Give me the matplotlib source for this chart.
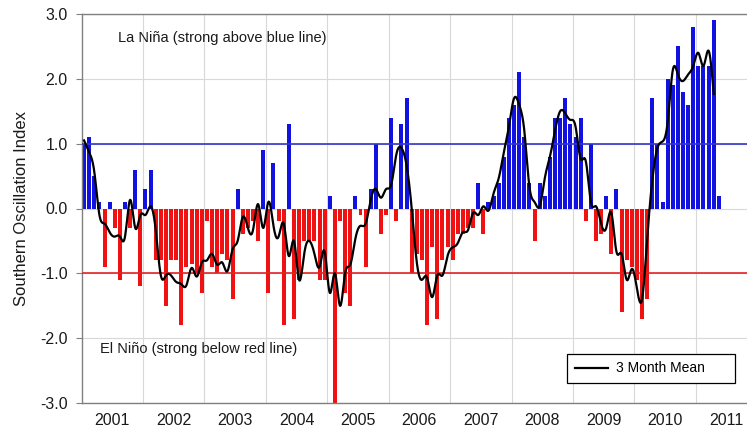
import numpy as np
import matplotlib
matplotlib.use("Agg")
import matplotlib.pyplot as plt
from matplotlib.ticker import FixedLocator, FuncFormatter, NullFormatter

plt.rcParams['font.family'] = ['Liberation Sans', 'DejaVu Sans']

# ---- data (monthly SOI, Jan 2001 .. May 2011) ----
years = ['2001', '2002', '2003', '2004', '2005', '2006',
         '2007', '2008', '2009', '2010', '2011']
soi_2001 = [1.0, 1.1, 0.5, 0.1, -0.9, 0.1, -0.3, -1.1, 0.1, -0.3, 0.6, -1.2]
soi_2002 = [0.3, 0.6, -0.8, -0.8, -1.5, -0.8, -0.8, -1.8, -0.9, -0.85, -1.0, -1.3]
soi_2003 = [-0.2, -0.9, -1.0, -0.7, -0.8, -1.4, 0.3, -0.4, -0.3, -0.2, -0.5, 0.9]
soi_2004 = [-1.3, 0.7, -0.2, -1.8, 1.3, -1.7, -1.1, -0.5, -0.5, -0.5, -1.1, -1.1]
soi_2005 = [0.2, -3.0, -0.2, -1.3, -1.5, 0.2, -0.1, -0.9, 0.3, 1.0, -0.4, -0.1]
soi_2006 = [1.4, -0.2, 1.3, 1.7, -1.0, -0.7, -0.8, -1.8, -0.6, -1.7, -0.8, -0.6]
soi_2007 = [-0.8, -0.4, -0.4, -0.3, -0.3, 0.4, -0.4, 0.1, 0.2, 0.4, 0.8, 1.4]
soi_2008 = [1.6, 2.1, 1.1, 0.4, -0.5, 0.4, 0.2, 0.8, 1.4, 1.4, 1.7, 1.3]
soi_2009 = [1.1, 1.4, -0.2, 1.0, -0.5, -0.4, 0.2, -0.7, 0.3, -1.6, -0.8, -0.9]
soi_2010 = [-1.1, -1.7, -1.4, 1.7, 1.0, 0.1, 2.0, 1.9, 2.5, 1.8, 1.6, 2.8]
soi_2011 = [2.2, 2.2, 2.2, 2.9, 0.2]
y_ticks = [-3.0, -2.0, -1.0, 0.0, 1.0, 2.0, 3.0]
la_nina_level = 1.0
el_nino_level = -1.0

soi = np.array(soi_2001 + soi_2002 + soi_2003 + soi_2004 + soi_2005 + soi_2006 +
               soi_2007 + soi_2008 + soi_2009 + soi_2010 + soi_2011)
n = len(soi)
xm = np.arange(n) + 0.5

# 3 month centred mean (last month has no following month -> line ends one earlier)
mean3 = np.array([soi[max(0, i - 1):i + 2].mean() for i in range(n - 1)])
xl = xm[:n - 1]


def natural_spline(x, y, xs):
    m = len(x)
    h = np.diff(x)
    A = np.zeros((m, m))
    b = np.zeros(m)
    A[0, 0] = 1
    A[-1, -1] = 1
    for i in range(1, m - 1):
        A[i, i - 1] = h[i - 1]
        A[i, i] = 2 * (h[i - 1] + h[i])
        A[i, i + 1] = h[i]
        b[i] = 6 * ((y[i + 1] - y[i]) / h[i] - (y[i] - y[i - 1]) / h[i - 1])
    M = np.linalg.solve(A, b)
    idx = np.clip(np.searchsorted(x, xs) - 1, 0, m - 2)
    x0 = x[idx]
    x1 = x[idx + 1]
    hh = x1 - x0
    t0 = x1 - xs
    t1 = xs - x0
    return (M[idx] * t0 ** 3 / (6 * hh) + M[idx + 1] * t1 ** 3 / (6 * hh)
            + (y[idx] / hh - M[idx] * hh / 6) * t0
            + (y[idx + 1] / hh - M[idx + 1] * hh / 6) * t1)


xs = np.linspace(xl[0], xl[-1], 2000)
ys = natural_spline(xl, mean3, xs)

# ---- figure ----
W, H = 747, 430
fig = plt.figure(figsize=(W / 100, H / 100), dpi=100)
ax_l, ax_r, ax_t, ax_b = 81.5, 747, 14, 403
ax = fig.add_axes([ax_l / W, (H - ax_b) / H, (ax_r - ax_l) / W, (ax_b - ax_t) / H])

colors = np.where(soi >= 0, '#1212e0', '#f01212')
ax.bar(xm, soi, width=0.78, color=colors, zorder=2, linewidth=0)

ax.axhline(la_nina_level, color='#3535c8', lw=1.2, zorder=3)
ax.axhline(el_nino_level, color='#e02525', lw=1.2, zorder=3)

ax.plot(xs, ys, color='black', lw=1.6, zorder=4, label='3 Month Mean')

ax.set_xlim(0, 130)
ax.set_ylim(-3, 3)

# year gridlines at boundaries, labels centred in each year
ax.xaxis.set_major_locator(FixedLocator([12 * k for k in range(1, 11)]))
ax.xaxis.set_major_formatter(NullFormatter())
ax.xaxis.set_minor_locator(FixedLocator([12 * k + 6 for k in range(len(years))]))
ax.xaxis.set_minor_formatter(FuncFormatter(lambda v, p: years[int(v // 12)]))
ax.tick_params(axis='x', which='both', length=0, labelsize=11.5, pad=7,
               labelcolor='#1a1a1a')

ax.yaxis.set_major_locator(FixedLocator(y_ticks))
ax.yaxis.set_major_formatter(FuncFormatter(lambda v, p: f"{v:.1f}"))
ax.tick_params(axis='y', length=4, width=0.8, color='#808080', pad=6,
               labelsize=11.5, labelcolor='#1a1a1a')

ax.grid(True, which='major', color='#d8d8d8', lw=0.8, zorder=0)
ax.set_axisbelow(True)

for s in ['left', 'bottom', 'top']:
    ax.spines[s].set_color('#808080')
    ax.spines[s].set_linewidth(1.0)
ax.spines['right'].set_visible(False)

ax.set_ylabel('Southern Oscillation Index', fontsize=12, color='#1a1a1a', labelpad=8)

ax.text(7.1, 2.63, 'La Niña (strong above blue line)', fontsize=10.5,
        color='#1a1a1a', va='center', ha='left', zorder=5)
ax.text(3.6, -2.17, 'El Niño (strong below red line)', fontsize=10.5,
        color='#1a1a1a', va='center', ha='left', zorder=5)

leg = ax.legend(loc='lower left', bbox_to_anchor=(0.7296, 0.0514, 0.2524, 0.0771),
                mode='expand', borderaxespad=0, fancybox=False, framealpha=1,
                edgecolor='black', fontsize=10, handlelength=2.4, borderpad=0.55,
                handletextpad=0.6)
leg.get_frame().set_linewidth(0.9)

fig.savefig('out.png', dpi=100)
